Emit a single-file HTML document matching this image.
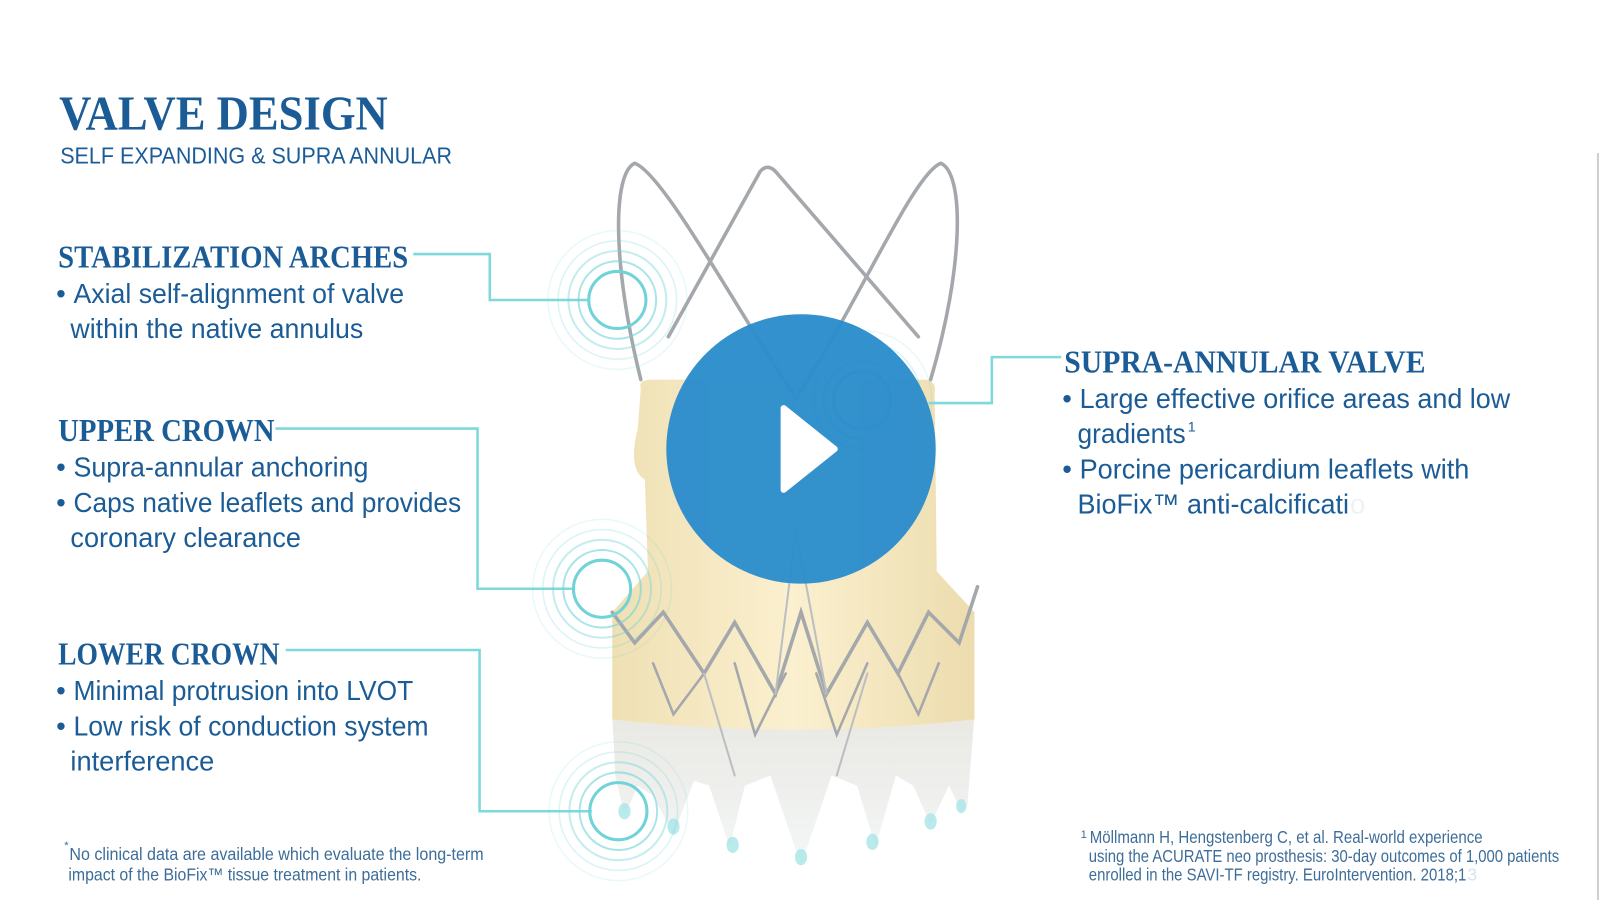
<!DOCTYPE html>
<html><head><meta charset="utf-8"><style>
html,body{margin:0;padding:0;background:#fff;width:1600px;height:900px;overflow:hidden}
svg{display:block}
.h{font-family:"Liberation Serif",serif;font-weight:bold;fill:#1b5c97}
.t{font-family:"Liberation Sans Narrow","Liberation Sans",sans-serif;fill:#1b5c97}
.f{font-family:"Liberation Sans Narrow","Liberation Sans",sans-serif;fill:#3d6d99}
</style></head><body>
<svg width="1600" height="900" viewBox="0 0 1568 882" preserveAspectRatio="none" xmlns="http://www.w3.org/2000/svg">
<defs>
<linearGradient id="body" x1="0" y1="0" x2="1" y2="0">
<stop offset="0" stop-color="#efe0b4"/><stop offset="0.5" stop-color="#fbf0cf"/><stop offset="1" stop-color="#ecdcae"/></linearGradient>
<linearGradient id="skirt" x1="0" y1="0" x2="0" y2="1">
<stop offset="0" stop-color="#e9e8e3"/><stop offset="1" stop-color="#f4f7f7"/></linearGradient>
<g id="rings" fill="none" stroke="#6fd3d8">
<circle r="28" stroke-width="3"/><circle r="38" stroke-width="2" opacity=".6"/><circle r="48" stroke-width="2" opacity=".4"/><circle r="58" stroke-width="1.5" opacity=".25"/><circle r="68" stroke-width="1.5" opacity=".15"/></g>
</defs>
<rect width="1568" height="882" fill="#fff"/>
<line x1="1566" y1="150" x2="1566" y2="882" stroke="#cfcfcf" stroke-width="2"/>

<!-- valve -->
<path d="M600,700 L955,700 L948,790 L942,795 L930,770 L912,808 L895,770 L878,760 L858,830 L840,770 L815,760 L785,848 L755,760 L730,770 L715,830 L695,770 L680,765 L660,818 L640,780 L625,770 L612,800 L603,760 Z" fill="url(#skirt)"/>
<path d="M628,380 Q625,372 640,372 L905,372 Q918,372 916,385 L918,560 L955,600 L955,705 Q780,725 600,705 L600,600 L635,560 L632,470 Q615,460 625,420 Z" fill="url(#body)"/>
<g fill="none" stroke="#a4a7ab" stroke-width="3.5" stroke-linecap="round">
<path d="M628,372 C600,260 600,170 622,160 C650,170 720,300 780,390"/>
<path d="M912,372 C945,260 945,170 922,160 C895,170 840,300 780,390"/>
<path d="M655,330 L745,168 Q752,160 760,168 L900,330"/>
<path d="M600,600 L622,630 L650,600 L690,660 L720,610 L760,680 L785,600 L810,680 L850,610 L880,660 L910,600 L940,630 L958,575"/>
<path d="M640,650 L660,700 L690,660 M720,650 L740,720 L770,660 M800,660 L820,720 L850,650 M880,660 L900,700 L920,650" stroke-width="2.5"/>
<path d="M690,660 L720,760 M850,660 L820,760 M760,680 L780,520 L810,680" stroke-width="2" stroke="#bcbfc2"/>
</g>
<g fill="#a8e6e8" opacity=".8">
<ellipse cx="612" cy="795" rx="6" ry="8"/><ellipse cx="660" cy="810" rx="6" ry="8"/><ellipse cx="718" cy="828" rx="6" ry="8"/><ellipse cx="785" cy="840" rx="6" ry="8"/><ellipse cx="855" cy="825" rx="6" ry="8"/><ellipse cx="912" cy="805" rx="6" ry="8"/><ellipse cx="942" cy="790" rx="5" ry="7"/></g>

<!-- connectors -->
<g fill="none" stroke="#7fd8dc" stroke-width="2.5">
<polyline points="405,249 480,249 480,294 578,294"/>
<polyline points="270,420 468,420 468,577 562,577"/>
<polyline points="280,637 470,637 470,795 580,795"/>
<polyline points="910,395 972,395 972,350 1040,350"/>
</g>
<use href="#rings" x="605" y="294"/>
<use href="#rings" x="590" y="577"/>
<use href="#rings" x="606" y="795"/>
<use href="#rings" x="845" y="392"/>

<!-- play -->
<circle cx="785" cy="440" r="132" fill="#2b8ccc" opacity=".96"/>
<path d="M768,400 L768,480 L818,440 Z" fill="#fff" stroke="#fff" stroke-width="6" stroke-linejoin="round"/>

<!-- text -->
<text class="h" x="58" y="127" font-size="48" textLength="322" lengthAdjust="spacingAndGlyphs">VALVE DESIGN</text>
<text class="t" x="59" y="160" font-size="23" textLength="384" lengthAdjust="spacingAndGlyphs">SELF EXPANDING &amp; SUPRA ANNULAR</text>

<text class="h" x="57" y="262" font-size="31" textLength="343" lengthAdjust="spacingAndGlyphs">STABILIZATION ARCHES</text>
<text class="t" x="55" y="297" font-size="27">•</text>
<text class="t" x="72" y="297" font-size="27" textLength="324" lengthAdjust="spacingAndGlyphs">Axial self-alignment of valve</text>
<text class="t" x="69" y="331" font-size="27" textLength="287" lengthAdjust="spacingAndGlyphs">within the native annulus</text>

<text class="h" x="57" y="432" font-size="31" textLength="212" lengthAdjust="spacingAndGlyphs">UPPER CROWN</text>
<text class="t" x="55" y="467" font-size="27">•</text>
<text class="t" x="72" y="467" font-size="27" textLength="289" lengthAdjust="spacingAndGlyphs">Supra-annular anchoring</text>
<text class="t" x="55" y="502" font-size="27">•</text>
<text class="t" x="72" y="502" font-size="27" textLength="380" lengthAdjust="spacingAndGlyphs">Caps native leaflets and provides</text>
<text class="t" x="69" y="536" font-size="27" textLength="226" lengthAdjust="spacingAndGlyphs">coronary clearance</text>

<text class="h" x="57" y="651" font-size="31" textLength="217" lengthAdjust="spacingAndGlyphs">LOWER CROWN</text>
<text class="t" x="55" y="686" font-size="27">•</text>
<text class="t" x="72" y="686" font-size="27" textLength="333" lengthAdjust="spacingAndGlyphs">Minimal protrusion into LVOT</text>
<text class="t" x="55" y="721" font-size="27">•</text>
<text class="t" x="72" y="721" font-size="27" textLength="348" lengthAdjust="spacingAndGlyphs">Low risk of conduction system</text>
<text class="t" x="69" y="755" font-size="27" textLength="141" lengthAdjust="spacingAndGlyphs">interference</text>

<text class="h" x="1043" y="365" font-size="31" textLength="354" lengthAdjust="spacingAndGlyphs">SUPRA-ANNULAR VALVE</text>
<text class="t" x="1041" y="400" font-size="27">•</text>
<text class="t" x="1058" y="400" font-size="27" textLength="422" lengthAdjust="spacingAndGlyphs">Large effective orifice areas and low</text>
<text class="t" x="1056" y="434" font-size="27" textLength="106" lengthAdjust="spacingAndGlyphs">gradients</text>
<text class="t" x="1164" y="423" font-size="14">1</text>
<text class="t" x="1041" y="469" font-size="27">•</text>
<text class="t" x="1058" y="469" font-size="27" textLength="382" lengthAdjust="spacingAndGlyphs">Porcine pericardium leaflets with</text>
<text class="t" x="1056" y="503" font-size="27" textLength="266" lengthAdjust="spacingAndGlyphs">BioFix™ anti-calcificati</text>
<text class="t" x="1323" y="503" font-size="27" fill-opacity=".08">o</text>

<text class="f" x="63" y="832" font-size="11">*</text>
<text class="f" x="68" y="843" font-size="17" textLength="406" lengthAdjust="spacingAndGlyphs">No clinical data are available which evaluate the long-term</text>
<text class="f" x="67" y="863" font-size="17" textLength="346" lengthAdjust="spacingAndGlyphs">impact of the BioFix™ tissue treatment in patients.</text>

<text class="f" x="1059" y="821" font-size="11">1</text>
<text class="f" x="1068" y="826" font-size="17" textLength="385" lengthAdjust="spacingAndGlyphs">Möllmann H, Hengstenberg C, et al. Real-world experience</text>
<text class="f" x="1067" y="845" font-size="17" textLength="461" lengthAdjust="spacingAndGlyphs">using the ACURATE neo prosthesis: 30-day outcomes of 1,000 patients</text>
<text class="f" x="1067" y="863" font-size="17" textLength="370" lengthAdjust="spacingAndGlyphs">enrolled in the SAVI-TF registry. EuroIntervention. 2018;1</text>
<text class="f" x="1438" y="863" font-size="17" fill-opacity=".2">3</text>
</svg>
</body></html>
